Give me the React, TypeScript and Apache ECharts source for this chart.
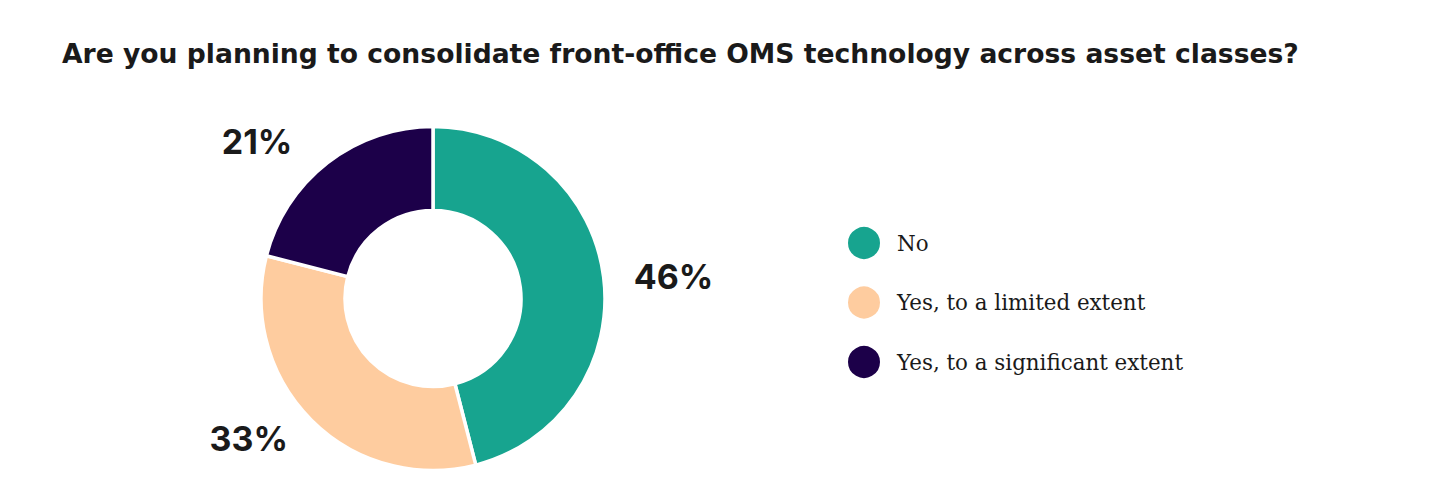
import React, { useEffect, useRef } from "react";
import * as echarts from "echarts";

const TITLE = "Are you planning to consolidate front-office OMS technology across asset classes?";
const categories = ["No", "Yes, to a limited extent", "Yes, to a significant extent"];
const values = [46, 33, 21];
const colors = ["#17a48f", "#fecc9f", "#1c0049"];
// label line lengths per slice (first segment, second segment)
const labelLen = [0, 26, 26.5];
const labelLen2 = [25, 0, 14];

export default function App() {
  const ref = useRef<HTMLDivElement>(null);
  useEffect(() => {
    document.body.style.margin = "0";
    const chart = echarts.init(ref.current!, null, { renderer: "svg" });
    chart.setOption({
      animation: false,
      backgroundColor: "#ffffff",
      title: {
        text: TITLE,
        left: 57,
        top: 35,
        textStyle: {
          fontFamily: "DejaVu Sans",
          fontWeight: "bold",
          fontSize: 26.6,
          color: "#1a1a1a",
        },
      },
      legend: {
        orient: "vertical",
        left: 841,
        top: 220,
        icon: "circle",
        itemWidth: 34,
        itemHeight: 34,
        itemGap: 23.5,
        selectedMode: false,
        data: categories,
        textStyle: {
          fontFamily: "DejaVu Serif",
          fontSize: 21.4,
          color: "#1a1a1a",
          padding: [0, 0, 0, 11],
        },
      },
      series: [
        {
          type: "pie",
          center: [433, 298.5],
          radius: [88, 172],
          startAngle: 90,
          clockwise: true,
          avoidLabelOverlap: false,
          itemStyle: { borderColor: "#ffffff", borderWidth: 3.5 },
          label: {
            show: true,
            position: "outside",
            formatter: "{c}%",
            fontFamily: "Inter",
            fontWeight: "bold",
            fontSize: 34,
            color: "#1a1a1a",
            distanceToLabelLine: 5,
          },
          emphasis: { disabled: true },
          data: categories.map((name, i) => ({
            name,
            value: values[i],
            itemStyle: { color: colors[i] },
            labelLine: { show: false, length: labelLen[i], length2: labelLen2[i] },
          })),
        },
      ],
    });
    return () => chart.dispose();
  }, []);
  return <div ref={ref} style={{ width: 1430, height: 497 }} />;
}
